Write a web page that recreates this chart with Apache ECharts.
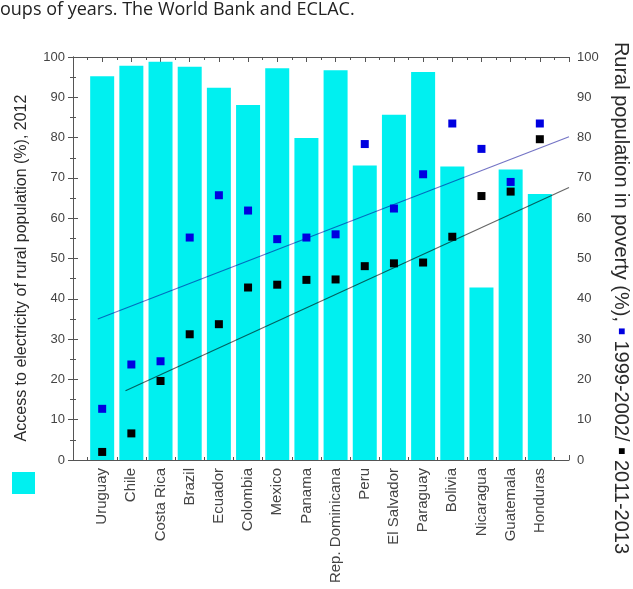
<!DOCTYPE html>
<html>
<head>
<meta charset="utf-8">
<script src="https://cdn.jsdelivr.net/npm/echarts@6/dist/echarts.min.js"></script>
<style>html,body{margin:0;padding:0;background:#fff}#c{width:633px;height:589px}</style>
</head>
<body>
<div id="c"></div>
<script>
const countries = ['Uruguay','Chile','Costa Rica','Brazil','Ecuador','Colombia','Mexico','Panama','Rep. Dominicana','Peru','El Salvador','Paraguay','Bolivia','Nicaragua','Guatemala','Honduras'];
const electricity2012 = [95.2, 97.8, 98.8, 97.6, 92.4, 88.1, 97.2, 79.9, 96.7, 73.1, 85.7, 96.3, 72.8, 42.8, 72.1, 66.0];
const poverty1999_2002 = [12.7, 23.7, 24.5, 55.2, 65.7, 61.9, 54.8, 55.2, 56.0, 78.4, 62.4, 70.9, 83.5, 77.2, 69.0, 83.5];
const poverty2011_2013 = [2.0, 6.6, 19.6, 31.2, 33.7, 42.8, 43.5, 44.7, 44.8, 48.1, 48.8, 49.0, 55.4, 65.5, 66.6, 79.6];
const trendBlueX = [0.85, 17];
const trendBlueY = [35.0, 80.2];
const trendBlackX = [1.8, 17];
const trendBlackY = [17.2, 67.6];
const yTicks = [0, 10, 20, 30, 40, 50, 60, 70, 80, 90, 100];

const pos = countries.map((_, i) => i + 1);
const pairs = (xs, ys) => xs.map((x, i) => [x, ys[i]]);

const axisColor = '#555';
const labelColor = '#444';
const font = "Liberation Sans";

const chart = echarts.init(document.getElementById('c'), null, {renderer: 'canvas'});
const yAxisBase = (position) => ({
  type: 'value', position, min: yTicks[0], max: yTicks[yTicks.length - 1], interval: 10,
  axisLine: {show: true, lineStyle: {color: axisColor, width: 1}},
  axisTick: {show: true, inside: true, length: 5, lineStyle: {color: axisColor}},
  minorTick: {show: true, splitNumber: 2, length: 3, lineStyle: {color: axisColor}},
  splitLine: {show: false},
  axisLabel: {color: labelColor, fontFamily: font, fontSize: 13, margin: 8}
});
chart.setOption({
  animation: false,
  grid: {left: 73, right: 64, top: 57, bottom: 129, containLabel: false},
  xAxis: [{
    type: 'value', min: 0, max: 17, interval: 1, position: 'bottom',
    axisLine: {show: true, onZero: false, lineStyle: {color: axisColor, width: 1}},
    axisTick: {show: true, inside: true, length: 5, lineStyle: {color: axisColor}},
    minorTick: {show: true, splitNumber: 2, length: 3, lineStyle: {color: axisColor}},
    splitLine: {show: false},
    axisLabel: {
      rotate: 90, color: labelColor, fontFamily: font, fontSize: 15, margin: 8,
      formatter: v => countries[v - 1] || ''
    }
  }, {
    type: 'value', min: 0, max: 17, interval: 1, position: 'top',
    axisLine: {show: true, onZero: false, lineStyle: {color: axisColor, width: 1}},
    axisTick: {show: true, inside: true, length: 5, lineStyle: {color: axisColor}},
    minorTick: {show: true, splitNumber: 2, length: 3, lineStyle: {color: axisColor}},
    splitLine: {show: false},
    axisLabel: {show: false}
  }],
  yAxis: [yAxisBase('left'), yAxisBase('right')],
  graphic: [
    {type: 'text', left: 0, top: 1, style: {text: 'oups of years. The World Bank and ECLAC.', fontFamily: 'Open Sans', fontSize: 18, fill: '#222'}},
    {type: 'text', x: 22, y: 268, rotation: Math.PI / 2, style: {text: 'Access to electricity of rural population (%), 2012', fontFamily: font, fontSize: 16, fill: '#2a2a2a', textAlign: 'center', textVerticalAlign: 'middle'}},
    {type: 'text', x: 621, y: 298, rotation: -Math.PI / 2, style: {
      text: 'Rural population in poverty (%), {b|■} 1999-2002/ {k|■} 2011-2013',
      fontFamily: font, fontSize: 20, fill: '#2a2a2a', textAlign: 'center', textVerticalAlign: 'middle',
      rich: {b: {fill: '#0000e0', fontSize: 12}, k: {fill: '#000', fontSize: 12}}
    }},
    {type: 'rect', shape: {x: 12, y: 472, width: 23, height: 22}, style: {fill: '#00f0f0'}}
  ],
  series: [
    {type: 'bar', name: 'Access to electricity', xAxisIndex: 0, yAxisIndex: 0, barWidth: 24,
     itemStyle: {color: '#00f0f0'}, data: pairs(pos, electricity2012), z: 1},
    {type: 'line', xAxisIndex: 0, yAxisIndex: 1, data: pairs(trendBlueX, trendBlueY), symbol: 'none',
     lineStyle: {color: 'rgba(0,0,150,0.55)', width: 1.2}, z: 2},
    {type: 'line', xAxisIndex: 0, yAxisIndex: 1, data: pairs(trendBlackX, trendBlackY), symbol: 'none',
     lineStyle: {color: 'rgba(0,0,0,0.6)', width: 1.2}, z: 2},
    {type: 'scatter', name: '1999-2002', xAxisIndex: 0, yAxisIndex: 1, symbol: 'rect', symbolSize: 8,
     itemStyle: {color: '#0000e0', opacity: 1}, data: pairs(pos, poverty1999_2002), z: 3},
    {type: 'scatter', name: '2011-2013', xAxisIndex: 0, yAxisIndex: 1, symbol: 'rect', symbolSize: 8,
     itemStyle: {color: '#000', opacity: 1}, data: pairs(pos, poverty2011_2013), z: 3}
  ]
});
</script>
</body>
</html>
